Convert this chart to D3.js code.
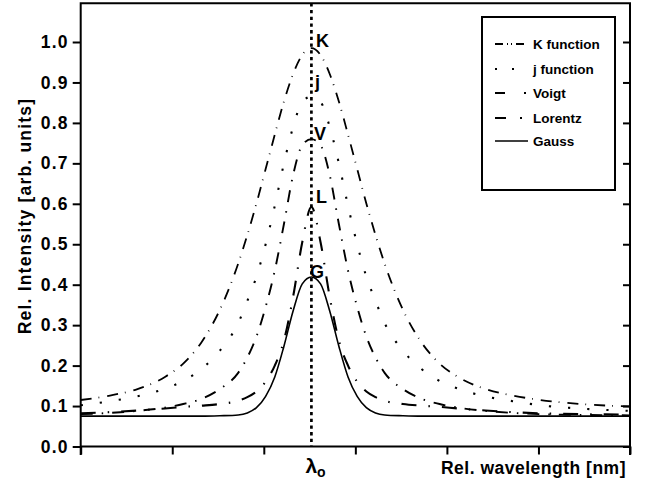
<!DOCTYPE html>
<html>
<head>
<meta charset="utf-8">
<script src="https://cdn.jsdelivr.net/npm/d3@7"></script>
<style>
  html, body { margin: 0; padding: 0; background: #fff; }
  svg { display: block; }
  text { font-family: "Liberation Sans", Arial, sans-serif; font-weight: bold; fill: #000; }
</style>
</head>
<body>
<svg id="chart" width="646" height="483"></svg>
<script>
// ---------- data ----------
const lambda0 = 2.52;                 // position of λo on the x axis
const xTicks = [0, 1, 2, 3, 4, 5, 6];
const yTicks = [0, 0.1, 0.2, 0.3, 0.4, 0.5, 0.6, 0.7, 0.8, 0.9, 1.0];
const dx = [-2.52, -2.2, -1.9, -1.6, -1.4, -1.2, -1.0, -0.8, -0.7, -0.6, -0.5, -0.4, -0.3, -0.2, -0.1,
            0,
            0.1, 0.2, 0.3, 0.4, 0.5, 0.6, 0.7, 0.8, 1.0, 1.2, 1.4, 1.6, 1.9, 2.2, 2.5, 3.0, 3.48];
const kFunction = [0.115, 0.126, 0.142, 0.172, 0.205, 0.258, 0.338, 0.452, 0.523, 0.601, 0.686, 0.771, 0.853, 0.921, 0.968,
                   0.985,
                   0.968, 0.921, 0.853, 0.771, 0.686, 0.601, 0.523, 0.452, 0.338, 0.258, 0.205, 0.172, 0.142, 0.126, 0.115, 0.104, 0.099];
const jFunction = [0.102, 0.112, 0.124, 0.143, 0.162, 0.192, 0.237, 0.305, 0.36, 0.42, 0.50, 0.595, 0.70, 0.79, 0.852,
                   0.865,
                   0.852, 0.79, 0.70, 0.595, 0.50, 0.42, 0.36, 0.305, 0.237, 0.192, 0.162, 0.143, 0.124, 0.112, 0.102, 0.093, 0.088];
const voigt = [0.08, 0.083, 0.088, 0.096, 0.105, 0.118, 0.142, 0.182, 0.22, 0.272, 0.345, 0.435, 0.55, 0.671, 0.745,
               0.76,
               0.745, 0.671, 0.55, 0.435, 0.345, 0.272, 0.22, 0.182, 0.142, 0.118, 0.105, 0.096, 0.088, 0.083, 0.08, 0.078, 0.077];
const lorentz = [0.082, 0.085, 0.089, 0.094, 0.098, 0.101, 0.105, 0.113, 0.122, 0.136, 0.16, 0.2, 0.262, 0.37, 0.505,
                 0.592,
                 0.505, 0.37, 0.262, 0.2, 0.16, 0.136, 0.122, 0.113, 0.105, 0.101, 0.098, 0.094, 0.089, 0.085, 0.082, 0.08, 0.079];
const gauss = [0.075, 0.075, 0.075, 0.075, 0.075, 0.075, 0.076, 0.078, 0.083, 0.096, 0.124, 0.172, 0.248, 0.335, 0.402,
               0.419,
               0.402, 0.335, 0.248, 0.172, 0.124, 0.096, 0.083, 0.078, 0.076, 0.075, 0.075, 0.075, 0.075, 0.075, 0.075, 0.075, 0.075];
const seriesNames = ["K function", "j function", "Voigt", "Lorentz", "Gauss"];
const peakLabels = ["K", "j", "V", "L", "G"];

// ---------- layout ----------
const L = 80.7, R = 630, T = 3.3, B = 446.5;
const svg = d3.select("#chart");
const x = d3.scaleLinear().domain([0, 6]).range([L, R]);
const y = d3.scaleLinear().domain([0, 1]).range([B, 42]);

const series = [
  { name: seriesNames[0], values: kFunction, dash: "11,7,0.8,8", legendDash: "8,4,1,3,1,4", w: 1.8 },
  { name: seriesNames[1], values: jFunction, dash: "2.2,17", legendDash: "2,15", w: 2.1 },
  { name: seriesNames[2], values: voigt, dash: "12,9,1.5,9", legendDash: "10,19,2,60", w: 1.9 },
  { name: seriesNames[3], values: lorentz, dash: "15,12,1.5,12", legendDash: "11,14,2,60", w: 2.1 },
  { name: seriesNames[4], values: gauss, dash: null, legendDash: null, w: 1.6 }
];

const line = d3.line()
  .x((d, i) => x(lambda0 + dx[i]))
  .y(d => y(d))
  .curve(d3.curveMonotoneX);

const plot = svg.append("g");
plot.append("clipPath").attr("id", "clip")
  .append("rect").attr("x", L).attr("y", T).attr("width", R - L).attr("height", B - T);

const curves = plot.append("g").attr("clip-path", "url(#clip)");
series.forEach(s => {
  curves.append("path")
    .attr("d", line(s.values))
    .attr("fill", "none")
    .attr("stroke", "#000")
    .attr("stroke-width", s.w)
    .attr("stroke-dasharray", s.dash);
});

// vertical dotted line at λo
svg.append("line")
  .attr("x1", x(lambda0)).attr("x2", x(lambda0))
  .attr("y1", T).attr("y2", B)
  .attr("stroke", "#000").attr("stroke-width", 2.7)
  .attr("stroke-dasharray", "3.3,3.4");

// ---------- axes ----------
const axStroke = 2;
const xAxis = svg.append("g").attr("transform", `translate(0,${B})`)
  .call(d3.axisBottom(x).tickValues(xTicks).tickSize(8).tickSizeOuter(0).tickFormat(""));
const yAxis = svg.append("g").attr("transform", `translate(${L},0)`)
  .call(d3.axisLeft(y).tickValues(yTicks).tickSize(8).tickSizeOuter(0).tickPadding(4).tickFormat(d3.format(".1f")));
const yAxisR = svg.append("g").attr("transform", `translate(${R},0)`)
  .call(d3.axisRight(y).tickValues(yTicks).tickSize(-7).tickSizeOuter(0).tickFormat(""));

[xAxis, yAxis, yAxisR].forEach(a => {
  a.select(".domain").remove();
  a.selectAll(".tick line").attr("stroke", "#000").attr("stroke-width", axStroke);
});
yAxis.selectAll(".tick text")
  .attr("font-size", 17.5).attr("font-weight", "bold")
  .attr("font-family", "'Liberation Sans', Arial, sans-serif")
  .style("letter-spacing", "1.2px");

// frame
svg.append("path")
  .attr("d", `M${L},${B + 8.5} L${L},${T} L${R},${T} L${R},${B + 8.5} M${L},${B} L${R},${B}`)
  .attr("fill", "none").attr("stroke", "#000").attr("stroke-width", axStroke);

// axis titles
svg.append("text")
  .attr("transform", `translate(31,216) rotate(-90)`)
  .attr("text-anchor", "middle")
  .attr("font-size", 17.5)
  .style("letter-spacing", "1.2px")
  .text("Rel. Intensity [arb. units]");

svg.append("text")
  .attr("x", 626).attr("y", 474)
  .attr("text-anchor", "end")
  .attr("font-size", 17.5)
  .style("letter-spacing", "0.5px")
  .text("Rel. wavelength [nm]");

const lam = svg.append("text")
  .attr("x", x(lambda0) - 6).attr("y", 473)
  .attr("font-size", 21);
lam.append("tspan").text("λ");
lam.append("tspan").attr("font-size", 14).attr("dy", 4).text("o");

// peak labels
const labelY = [47, 88, 140, 203, 278];
const labelX = [316, 315, 314, 316, 310];
peakLabels.forEach((t, i) => {
  svg.append("text")
    .attr("x", labelX[i]).attr("y", labelY[i])
    .attr("font-size", 18)
    .text(t);
});

// ---------- legend ----------
const lg = svg.append("g");
lg.append("rect")
  .attr("x", 482).attr("y", 17).attr("width", 133).attr("height", 173)
  .attr("fill", "#fff").attr("stroke", "#000").attr("stroke-width", 2);
const rowY = [44, 69, 93, 118, 141];
series.forEach((s, i) => {
  lg.append("line")
    .attr("x1", 495).attr("x2", 528)
    .attr("y1", rowY[i]).attr("y2", rowY[i])
    .attr("stroke", "#000").attr("stroke-width", s.w)
    .attr("stroke-dasharray", s.legendDash);
  lg.append("text")
    .attr("x", 533).attr("y", rowY[i] + 5)
    .attr("font-size", 13.5)
    .text(s.name);
});
</script>
</body>
</html>
